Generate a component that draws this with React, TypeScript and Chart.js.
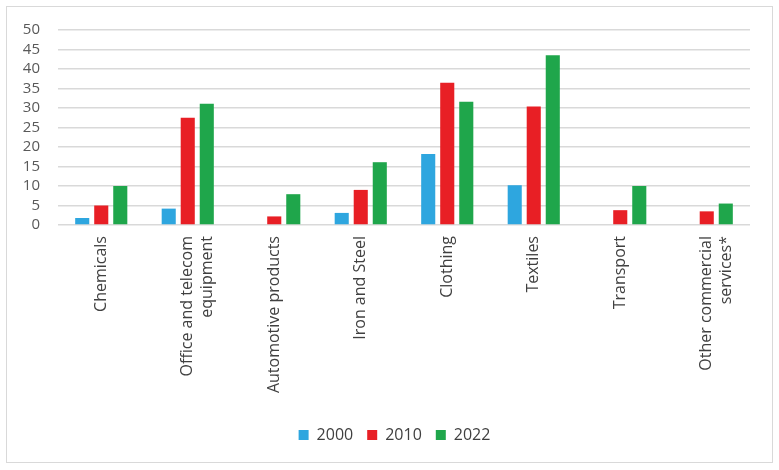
import React, { useEffect, useRef } from "react";
import { Chart, registerables } from "chart.js";

Chart.register(...registerables);

const categories: (string | string[])[] = [
  "Chemicals",
  ["Office and telecom", "equipment"],
  "Automotive products",
  "Iron and Steel",
  "Clothing",
  "Textiles",
  "Transport",
  ["Other commercial", "services*"],
];

const seriesLabels = ["2000", "2010", "2022"];
const values2000 = [1.8, 4.2, 0, 3.1, 18.2, 10.2, 0, 0];
const values2010 = [5.0, 27.5, 2.2, 9.0, 36.5, 30.4, 3.8, 3.5];
const values2022 = [10.0, 31.1, 7.9, 16.1, 31.6, 43.5, 10.0, 5.5];
const colors = ["#2ea6df", "#e81f25", "#1fa64b"];

const legendShift = {
  id: "legendShift",
  afterLayout(chart: any) {
    if (chart.legend) chart.legend.left += 32;
  },
};

export default function App() {
  const ref = useRef<HTMLCanvasElement | null>(null);

  useEffect(() => {
    if (!ref.current) return;
    const seriesValues = [values2000, values2010, values2022];
    const chart = new Chart(ref.current, {
      type: "bar",
      data: {
        labels: categories,
        datasets: seriesLabels.map((l, i) => ({
          label: l,
          data: seriesValues[i],
          backgroundColor: colors[i],
          borderWidth: 0,
          categoryPercentage: 0.66,
          barPercentage: 0.74,
        })),
      },
      plugins: [legendShift],
      options: {
        animation: false,
        responsive: true,
        maintainAspectRatio: false,
        layout: { padding: { left: 0, right: 22, top: 14, bottom: 9 } },
        plugins: {
          tooltip: { enabled: false },
          legend: {
            position: "bottom",
            labels: {
              boxWidth: 10,
              boxHeight: 10,
              padding: 14,
              color: "#404040",
              font: { family: "'Liberation Sans Narrow', 'Open Sans', sans-serif", size: 16 },
            },
          },
        },
        scales: {
          x: {
            grid: { display: false },
            border: { display: false },
            ticks: {
              minRotation: 90,
              maxRotation: 90,
              autoSkip: false,
              padding: 3,
              color: "#404040",
              font: { family: "'Open Sans', sans-serif", size: 16 },
            },
            afterFit: (s: any) => {
              s.height = 188;
            },
          },
          y: {
            min: 0,
            max: 50,
            grid: { color: "#d9d9d9", lineWidth: 1.5, drawTicks: false },
            border: { display: false },
            ticks: {
              stepSize: 5,
              autoSkip: false,
              padding: 18,
              color: "#595959",
              font: { family: "'Open Sans', sans-serif", size: 15 },
            },
            afterFit: (s: any) => {
              s.width = 51;
            },
          },
        },
      },
    });
    return () => chart.destroy();
  }, []);

  return (
    <div
      style={{
        position: "absolute",
        left: 6,
        top: 6,
        width: 767,
        height: 457,
        boxSizing: "border-box",
        border: "1px solid #d9d9d9",
        background: "#fff",
      }}
    >
      <div style={{ position: "absolute", left: 0, top: -4, width: 765, height: 459 }}>
        <canvas ref={ref} />
      </div>
    </div>
  );
}
